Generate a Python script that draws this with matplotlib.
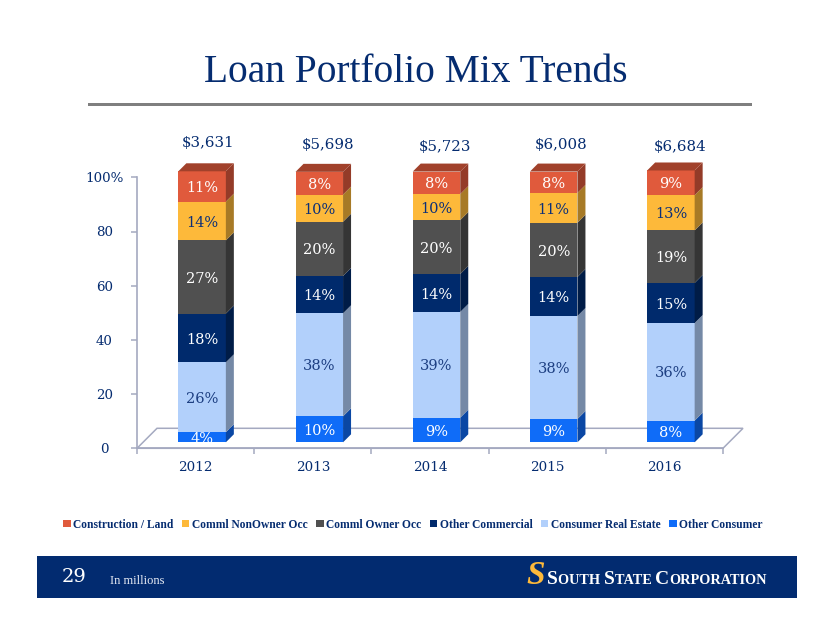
import matplotlib
matplotlib.use("Agg")
import matplotlib.pyplot as plt
from matplotlib.patches import Polygon, Rectangle
from matplotlib.colors import to_rgb

W, H = 822, 635
years = ["2012", "2013", "2014", "2015", "2016"]
totals = ["$3,631", "$5,698", "$5,723", "$6,008", "$6,684"]
series_names = ["Other Consumer", "Consumer Real Estate", "Other Commercial",
                "Comml Owner Occ", "Comml NonOwner Occ", "Construction / Land"]
other_consumer = [3.7, 9.6, 9.1, 8.6, 8.0]
consumer_re = [25.8, 38.0, 39.0, 38.0, 36.0]
other_commercial = [18.0, 13.8, 14.0, 14.4, 14.8]
owner_occ = [27.0, 20.0, 19.9, 20.0, 19.4]
nonowner_occ = [14.3, 10.0, 9.6, 11.0, 13.0]
construction = [11.2, 8.4, 8.3, 7.9, 9.1]
series = [other_consumer, consumer_re, other_commercial, owner_occ, nonowner_occ, construction]

colors = ["#0f6cf8", "#b2d0fb", "#002a6c", "#505050", "#fdb93a", "#e05a3c"]
label_colors = ["white", "#1d3f82", "white", "white", "#0b2f78", "white"]
NAVY = "#052c70"
AXIS = "#a4a9c0"
SERIF = "Liberation Serif"
LABEL = "DejaVu Serif"

fig = plt.figure(figsize=(W / 100, H / 100), dpi=100, facecolor="white")


def shade(c, f):
    return tuple(v * f for v in to_rgb(c))


def ptext(x, y, s, **kw):
    kw.setdefault("ha", "center")
    kw.setdefault("va", "center")
    return fig.text(x / W, 1 - y / H, s, **kw)


# page furniture
ptext(416, 73, "Loan Portfolio Mix Trends", fontsize=28.4, color=NAVY, family=SERIF)
fig.add_artist(Rectangle((88 / W, 1 - 105.5 / H), 664 / W, 2.6 / H, transform=fig.transFigure,
                         color="#7f7f7f", lw=0))
fig.add_artist(Rectangle((37 / W, 1 - 597.5 / H), 760 / W, 41.5 / H, transform=fig.transFigure,
                         color="#022b70", lw=0))

# chart axes
L, R, T, B = 137, 723, 177.3, 448.3
ax = fig.add_axes([L / W, 1 - B / H, (R - L) / W, (B - T) / H])
ax.set_xlim(-0.5, 4.5)
ax.set_ylim(0, 100)
ax.patch.set_alpha(0)
px_x = (R - L) / 5
px_y = (B - T) / 100
for s in ("top", "right"):
    ax.spines[s].set_visible(False)
for s in ("left", "bottom"):
    ax.spines[s].set_color(AXIS)
    ax.spines[s].set_linewidth(1.2)
ax.set_xticks([i - 0.5 for i in range(6)])
ax.set_xticklabels([])
ax.set_yticks(range(0, 101, 20))
ax.set_yticklabels(["0", "20", "40", "60", "80", "100%"], fontsize=9.6, color=NAVY, family=LABEL)
ax.tick_params(axis="both", color=AXIS, length=4, width=1.1)
ax.tick_params(axis="y", pad=19.4)
for lab in ax.get_yticklabels():
    lab.set_horizontalalignment("center")

# floor
fd_x, fd_y = 20 / px_x, 20 / px_y
ax.add_patch(Polygon([(-0.5, 0), (-0.5 + fd_x, fd_y), (4.5 + fd_x, fd_y), (4.5, 0)],
                     closed=True, fc="white", ec=AXIS, lw=1.1, clip_on=False, zorder=1))

bar_w = 47.5 / px_x
shift = 6.5 / px_x
base = 6.0 / px_y
dx, dy = 8 / px_x, 8 / px_y

for i, yr in enumerate(years):
    ax.text(i, -7.0, yr, ha="center", va="center", fontsize=9.7, color=NAVY,
            family=LABEL, clip_on=False)
    xc = i + shift
    x0, x1 = xc - bar_w / 2, xc + bar_w / 2
    y = base
    for j, s in enumerate(series):
        v = s[i]
        ax.bar(xc, v, bar_w, bottom=y, color=colors[j], lw=0, zorder=3, clip_on=False)
        ax.add_patch(Polygon([(x1, y), (x1 + dx, y + dy), (x1 + dx, y + v + dy), (x1, y + v)],
                             closed=True, fc=shade(colors[j], 0.66), lw=0, zorder=3, clip_on=False))
        ax.text(xc, y + v / 2 - 0.6, f"{round(v)}%", ha="center", va="center", fontsize=10.5,
                color=label_colors[j], family=LABEL, zorder=4, clip_on=False)
        y += v
    ax.add_patch(Polygon([(x0, y), (x0 + dx, y + dy), (x1 + dx, y + dy), (x1, y)],
                         closed=True, fc=shade(colors[-1], 0.72), lw=0, zorder=3, clip_on=False))

# totals
total_x = [208, 328, 445, 561, 680]
total_y = [143, 145, 147, 145, 147]
for t, x, y in zip(totals, total_x, total_y):
    ptext(x, y, t, fontsize=10.8, color=NAVY, family=LABEL)

# legend
order = list(range(5, -1, -1))
handles = [Rectangle((0, 0), 1, 1, fc=colors[k], lw=0) for k in order]
leg = fig.legend(handles, [series_names[k] for k in order], ncol=6, loc="center",
                 bbox_to_anchor=(413 / W, 1 - 524.5 / H), frameon=False,
                 prop={"family": SERIF, "weight": "bold", "size": 8.3},
                 labelcolor=NAVY, handlelength=0.65, handleheight=0.65, handletextpad=0.25,
                 columnspacing=0.7, borderpad=0, borderaxespad=0)

# footer
ptext(62, 577, "29", fontsize=14, color="white", family=LABEL, ha="left")
ptext(110, 581, "In millions", fontsize=9, color="#e8ecf5", family=SERIF, ha="left")
ptext(536, 576, "S", fontsize=24, color="#fdb93a", family=SERIF, weight="bold", style="italic")
x = 547
fig.canvas.draw()
rend = fig.canvas.get_renderer()
for word, small in [("S", 0), ("OUTH ", 1), ("S", 0), ("TATE ", 1), ("C", 0), ("ORPORATION", 1)]:
    t = ptext(x, 577, word.replace(" ", "\u00a0"), fontsize=10.3 if small else 14, color="white",
              family=SERIF, weight="bold", ha="left", va="baseline")
    t.set_y(1 - 584 / H)
    x = t.get_window_extent(rend).x1

fig.savefig("out.png", dpi=100, facecolor="white")
